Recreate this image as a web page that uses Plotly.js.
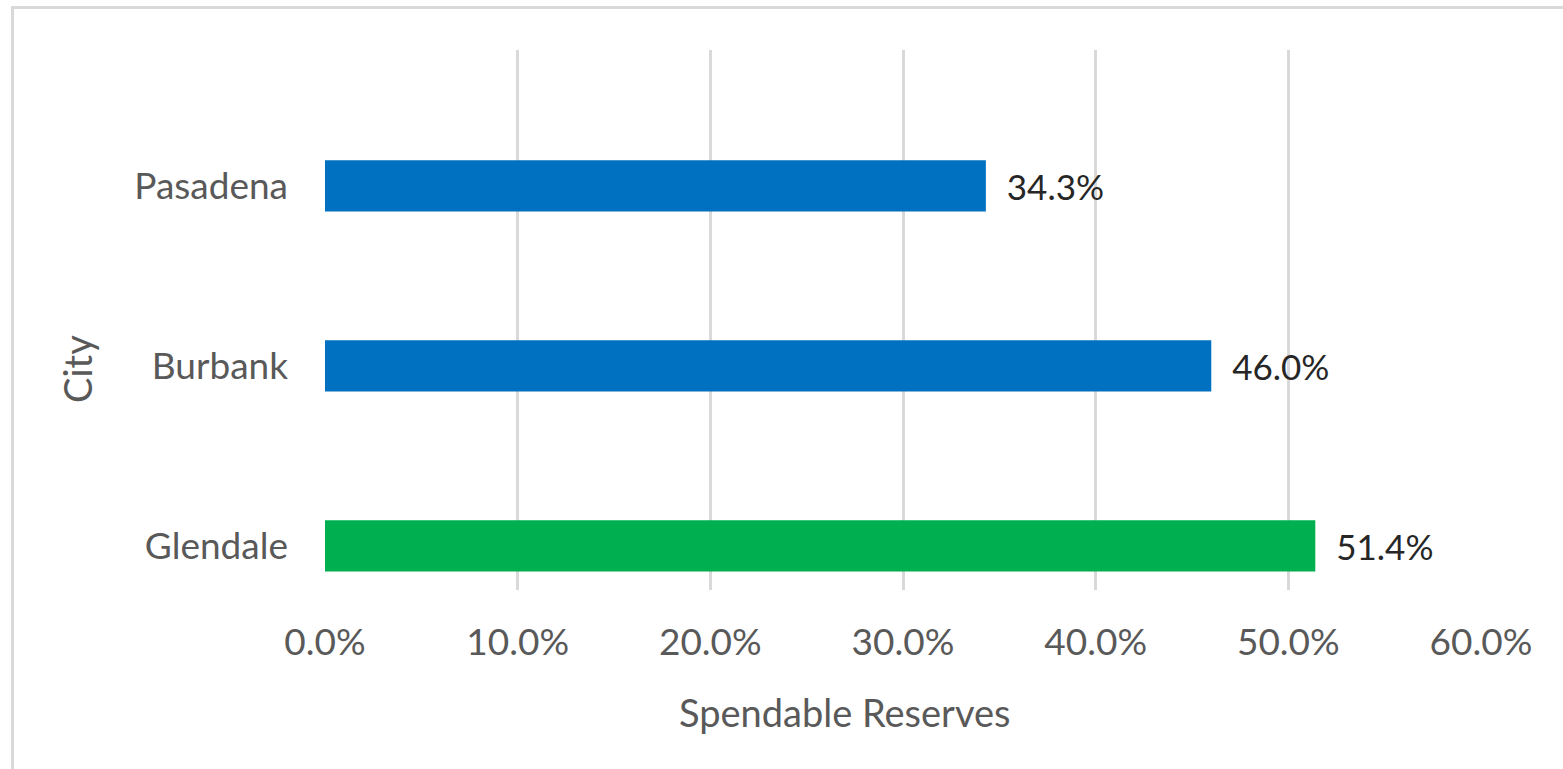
<!DOCTYPE html>
<html>
<head>
<meta charset="utf-8">
<script src="https://cdn.plot.ly/plotly-3.0.1.min.js"></script>
<style>
  html, body { margin: 0; padding: 0; background: #fff; }
  #wrap { position: relative; width: 1563px; height: 769px; }
  #chart { width: 1563px; height: 769px; }
  #frame { position: absolute; left: 11px; top: 6px; right: 0; bottom: 0;
           border-top: 3px solid #d9d9d9; border-left: 3px solid #d9d9d9; pointer-events: none; }
</style>
</head>
<body>
<div id="wrap">
  <div id="chart"></div>
  <div id="frame"></div>
</div>
<script>
const cities = ['Glendale', 'Burbank', 'Pasadena'];
const reserves = [0.514, 0.460, 0.343];
const barColors = ['#00B050', '#0070C0', '#0070C0'];
const xTickVals = [0, 0.1, 0.2, 0.3, 0.4, 0.5, 0.6];
const xTickText = ['0.0%', '10.0%', '20.0%', '30.0%', '40.0%', '50.0%', '60.0%'];
const xTitle = 'Spendable Reserves';
const yTitle = 'City';

const FONT = 'Lato, "Open Sans", sans-serif';
const LABEL_SIZE = 37;

const trace = {
  type: 'bar',
  orientation: 'h',
  x: reserves,
  y: cities,
  width: 0.285,
  marker: { color: barColors },
  text: reserves.map(v => '\u00a0\u00a0' + (v * 100).toFixed(1) + '%'),
  textposition: 'outside',
  textfont: { family: FONT, size: 35, color: '#262626' },
  cliponaxis: false,
  hoverinfo: 'skip'
};

const layout = {
  width: 1563,
  height: 769,
  margin: { l: 325, r: 82, t: 50, b: 179 },
  paper_bgcolor: '#ffffff',
  plot_bgcolor: '#ffffff',
  showlegend: false,
  font: { family: FONT, size: LABEL_SIZE, color: '#595959' },
  xaxis: {
    range: [0, 0.6],
    tickvals: xTickVals,
    ticktext: xTickText,
    showgrid: true,
    gridcolor: '#d9d9d9',
    gridwidth: 3,
    zeroline: false,
    showline: false,
    ticks: '',
    ticklabelstandoff: 27,
    tickfont: { family: FONT, size: LABEL_SIZE, color: '#595959' },
    fixedrange: true
  },
  yaxis: {
    type: 'category',
    categoryorder: 'array',
    categoryarray: cities,
    range: [-0.245, 2.755],
    showgrid: false,
    zeroline: false,
    showline: false,
    ticks: '',
    ticklabelstandoff: 36,
    tickfont: { family: FONT, size: LABEL_SIZE, color: '#595959' },
    fixedrange: true
  },
  annotations: [
    { text: xTitle, xref: 'paper', yref: 'paper', x: 0.450, y: -0.226,
      xanchor: 'center', yanchor: 'middle', showarrow: false,
      font: { family: FONT, size: 38, color: '#595959' } },
    { text: yTitle, xref: 'paper', yref: 'paper', x: (77 - 325) / 1156, y: (590 - 369) / 540,
      xanchor: 'center', yanchor: 'middle', showarrow: false, textangle: -90,
      font: { family: FONT, size: 38, color: '#595959' } }
  ]
};

Plotly.newPlot('chart', [trace], layout, { displayModeBar: false, staticPlot: true });
</script>
</body>
</html>
